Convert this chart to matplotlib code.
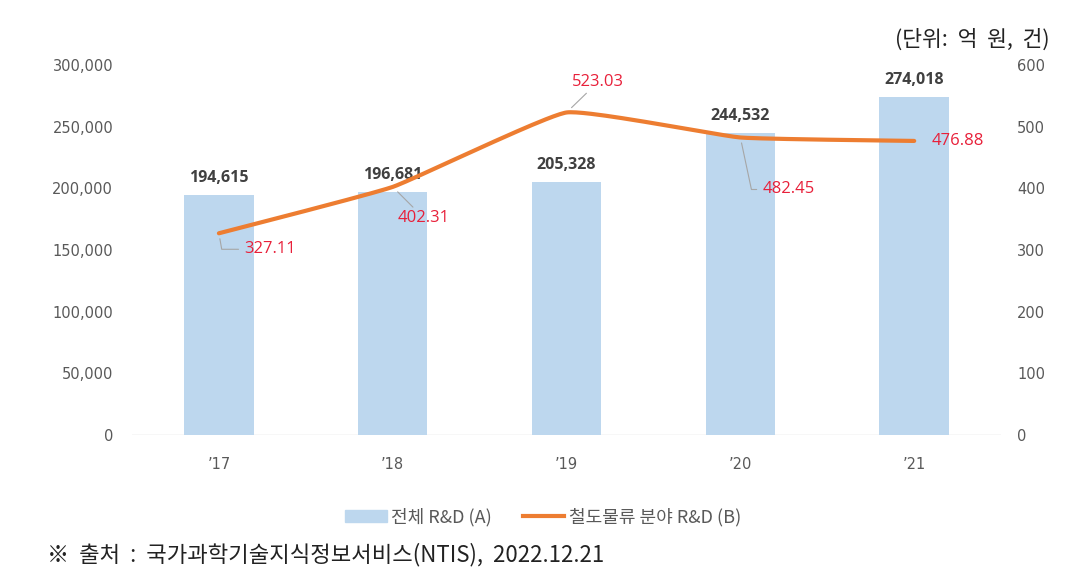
import numpy as np
import matplotlib.pyplot as plt
from matplotlib.ticker import FuncFormatter
from matplotlib.patches import Patch
from matplotlib.lines import Line2D

plt.rcParams['font.family'] = ['Noto Sans CJK KR', 'DejaVu Sans']

years = ["’17", "’18", "’19", "’20", "’21"]
total_rd = [194615, 196681, 205328, 244532, 274018]
rail_rd = [327.11, 402.31, 523.03, 482.45, 476.88]
# label offsets (pixels) and leader style for the line data labels
rail_offsets = [(51, -16), (31, -31), (31, 30), (48, -52), (44, 0)]
rail_leaders = ["angle,angleA=180,angleB=100", "arc3", "arc3",
                "angle,angleA=180,angleB=102", None]

bar_color = "#BDD7EE"
line_color = "#ED7D31"
label_red = "#E8203A"
tick_gray = "#595959"
num_font = ['DejaVu Sans']
lbl_font = ['Open Sans', 'DejaVu Sans']


def smooth(x, y, k=0.06, n=40):
    """Bezier curve through the points with low tension, like Excel's smoothed line"""
    x = np.asarray(x, float)
    y = np.asarray(y, float)
    px = np.concatenate([[x[0]], x, [x[-1]]])
    py = np.concatenate([[y[0]], y, [y[-1]]])
    t = np.linspace(0, 1, n)[:, None]
    pts = []
    for i in range(1, len(px) - 2):
        p0 = np.array([px[i - 1], py[i - 1]])
        p1 = np.array([px[i], py[i]])
        p2 = np.array([px[i + 1], py[i + 1]])
        p3 = np.array([px[i + 2], py[i + 2]])
        c1 = p1 + k * (p2 - p0)
        c2 = p2 - k * (p3 - p1)
        seg = ((1 - t) ** 3 * p1 + 3 * (1 - t) ** 2 * t * c1
               + 3 * (1 - t) * t ** 2 * c2 + t ** 3 * p2)
        pts.append(seg)
    pts = np.vstack(pts)
    return pts[:, 0], pts[:, 1]


fig = plt.figure(figsize=(10.81, 5.82), dpi=100)
ax = fig.add_axes([0.1221, 0.2526, 0.8040, 0.6357])
ax2 = ax.twinx()

x = np.arange(len(years))
ax.bar(x, total_rd, width=0.4, color=bar_color, zorder=2)
for xi, v in zip(x, total_rd):
    ax.annotate(f"{v:,}", (xi, v), xytext=(0, 9), textcoords="offset pixels",
                ha="center", va="bottom", fontsize=11.5, fontweight="bold",
                color="#404040", family=lbl_font)

ax.set_xlim(-0.5, len(years) - 0.5)
ax.set_ylim(0, 300000)
ax.set_yticks(np.arange(0, 300001, 50000))
ax.yaxis.set_major_formatter(FuncFormatter(lambda v, p: f"{int(v):,}"))
ax.set_xticks(x)
ax.set_xticklabels(years)

ax2.set_ylim(0, 600)
ax2.set_yticks(np.arange(0, 601, 100))

sx, sy = smooth(x, rail_rd)
ax2.plot(sx, sy, color=line_color, lw=3.0, solid_capstyle="round",
         solid_joinstyle="round", zorder=3)

for xi, v, off, cs in zip(x, rail_rd, rail_offsets, rail_leaders):
    props = None
    if cs == "arc3":
        props = dict(arrowstyle="-", color="#A6A6A6", lw=0.8, shrinkA=0, shrinkB=5)
    elif cs:
        props = dict(arrowstyle="-", color="#A6A6A6", lw=0.8, shrinkA=2, shrinkB=4,
                     relpos=(0, 0.5), connectionstyle=cs)
    ax2.annotate(f"{v:.2f}", (xi, v), xytext=off, textcoords="offset pixels",
                 ha="center", va="center", fontsize=12, color=label_red,
                 family=lbl_font, arrowprops=props)

for a in (ax, ax2):
    for s in a.spines.values():
        s.set_visible(False)
    a.tick_params(length=0, labelsize=10.5, labelcolor=tick_gray,
                  labelfontfamily=num_font)
ax.tick_params(axis="y", pad=13.5)
ax2.tick_params(axis="y", pad=11.5)
ax.tick_params(axis="x", pad=16)
ax.axhline(0, color="#D9D9D9", lw=1, zorder=1)

# legend
handles = [Patch(color=bar_color), Line2D([], [], color=line_color, lw=3.0)]
fig.legend(handles, ["전체 R&D (A)", "철도물류 분야 R&D (B)"], loc="center",
           bbox_to_anchor=(543 / 1081, 1 - 517 / 582), ncol=2, frameon=False,
           fontsize=13, labelcolor=tick_gray, handlelength=2.3,
           handletextpad=0.25, columnspacing=1.7)

fig.text(1050 / 1081, 1 - 40 / 582, "(단위:  억  원,  건)", ha="right", va="center",
         fontsize=15.5, color="#222222")
fig.text(47 / 1081, 1 - 555 / 582, "※  출처  :  국가과학기술지식정보서비스(NTIS),  2022.12.21",
         ha="left", va="center", fontsize=16, color="#222222")

fig.savefig("out.png", dpi=100)
